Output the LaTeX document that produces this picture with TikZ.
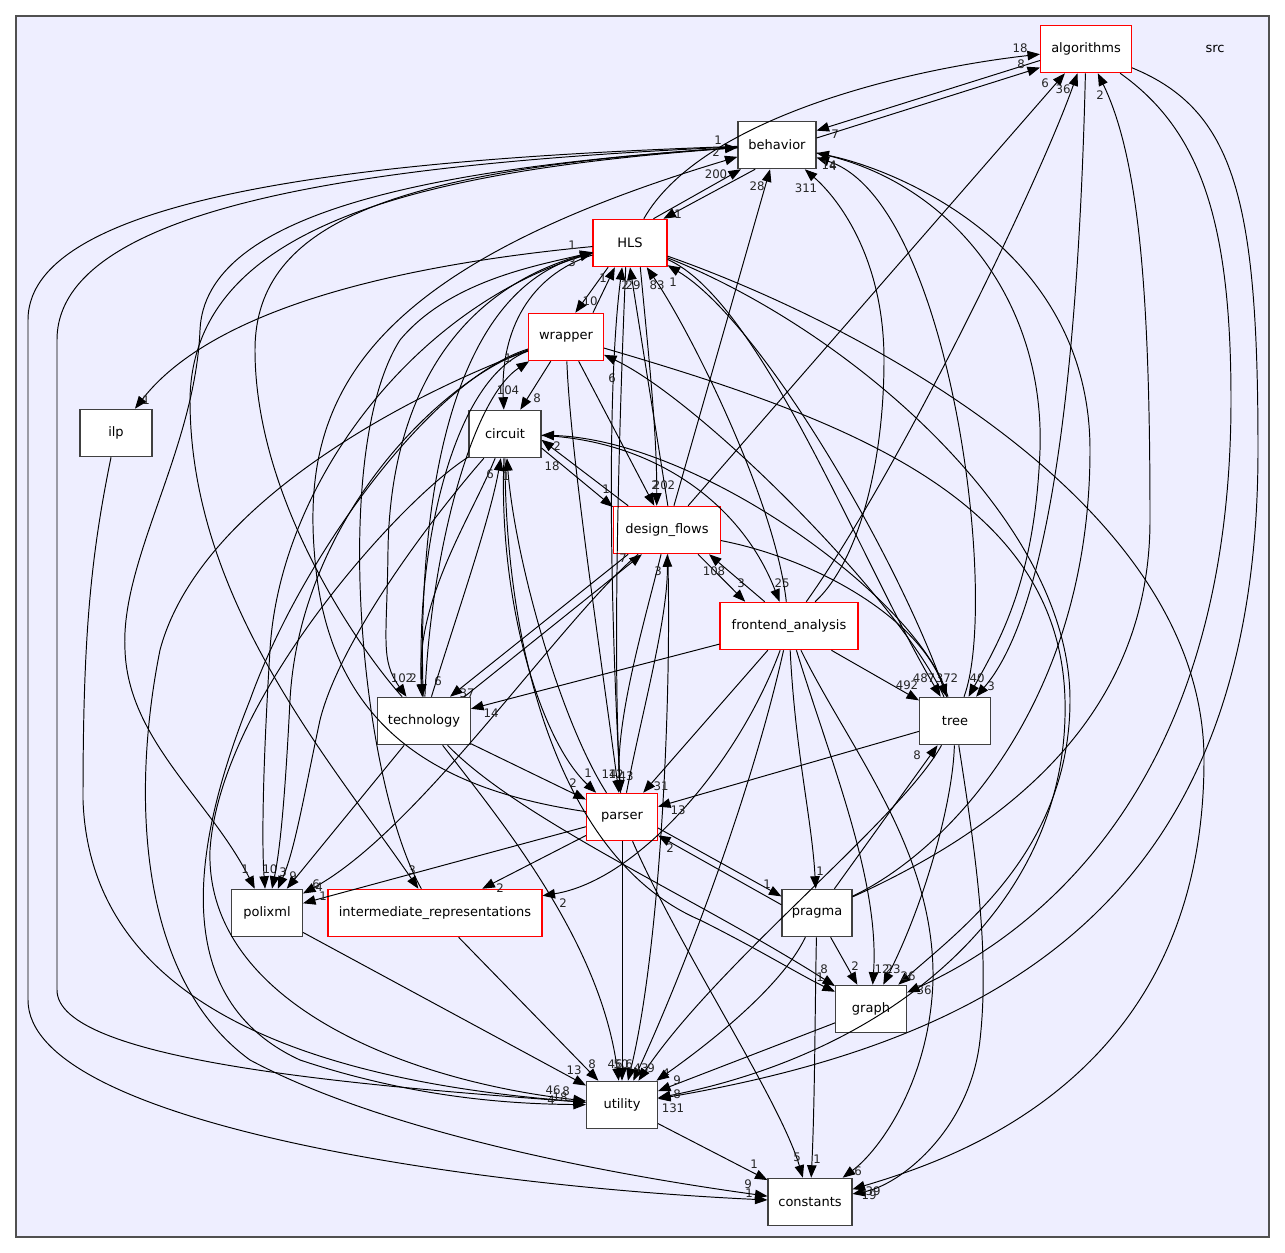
\documentclass[tikz,border=0pt]{standalone}
\usepackage{fontspec}
\setsansfont{DejaVu Sans}
\usetikzlibrary{arrows.meta}
\definecolor{SrcFill}{HTML}{EEEEFF}
\definecolor{SrcFrame}{HTML}{505050}
\definecolor{DirLine}{HTML}{404040}

\begin{document}
\begin{tikzpicture}[x=0.02cm,y=-0.02cm,
 dirbox/.style={draw=DirLine,fill=white,line width=0.6pt,minimum height=0.95cm,inner sep=1pt,font=\sffamily\fontsize{7.4}{9}\selectfont},
 dirred/.style={dirbox,draw=red},
 dep/.style={-{Triangle[length=2.5mm,width=1.9mm]},line width=0.55pt},
 lbl/.style={font=\sffamily\fontsize{6.7}{8}\selectfont,inner sep=0pt,text=black!85}]
\useasboundingbox (0,0) rectangle (1285,1253);
\draw[draw=SrcFrame,fill=SrcFill,line width=0.8pt] (16,16) rectangle (1269,1237);

% directories
\node[dirred,minimum width=1.82cm] (alg) at (1086,49) {algorithms};
\node[dirbox,minimum width=1.56cm] (beh) at (777,145) {behavior};
\node[dirred,minimum width=1.48cm] (hls) at (630,243) {HLS};
\node[dirred,minimum width=1.50cm] (wrp) at (566,337) {wrapper};
\node[dirbox,minimum width=1.44cm] (ilp) at (116,433) {ilp};
\node[dirbox,minimum width=1.44cm] (cir) at (505,434) {circuit};
\node[dirred,minimum width=2.14cm] (dfl) at (667,530) {design\_flows};
\node[dirred,minimum width=2.76cm] (fea) at (789,626) {frontend\_analysis};
\node[dirbox,minimum width=1.86cm] (tec) at (424,721) {technology};
\node[dirbox,minimum width=1.42cm] (tre) at (955,721) {tree};
\node[dirred,minimum width=1.42cm] (par) at (622,817) {parser};
\node[dirbox,minimum width=1.42cm] (pol) at (267,913) {polixml};
\node[dirred,minimum width=4.28cm] (ir) at (435,913) {intermediate\_representations};
\node[dirbox,minimum width=1.40cm] (pra) at (817,913) {pragma};
\node[dirbox,minimum width=1.42cm] (gra) at (871,1009) {graph};
\node[dirbox,minimum width=1.42cm] (uti) at (622,1105) {utility};
\node[dirbox,minimum width=1.68cm] (con) at (810,1202) {constants};
\node[font=\sffamily\fontsize{7.4}{9}\selectfont] (srcname) at (1215,49) {src};

% algorithms
\draw[dep] (alg.194) -- (beh.20) node[lbl] at (835,134) {7};
\draw[dep] (alg) .. controls (1080,300) and (1060,600) .. (tre) node[lbl] at (991,686) {3};
\draw[dep] (alg) .. controls (1200,130) and (1231,220) .. (1231,400) .. controls (1231,820) and (1000,950) .. (gra) node[lbl] at (924,990) {36};
\draw[dep] (alg) .. controls (1235,110) and (1258,200) .. (1258,450) .. controls (1258,900) and (1000,1040) .. (uti) node[lbl] at (673,1108) {131};

% behavior
\draw[dep] (beh.10) -- (alg.202) node[lbl] at (1021,64) {8};
\draw[dep] (beh.228) -- (hls.36) node[lbl] at (678,214) {1};
\draw[dep] (beh) .. controls (400,162) and (57,200) .. (57,340) -- (57,990) .. controls (57,1060) and (350,1085) .. (uti) node[lbl] at (551,1100) {4};
\draw[dep] (beh) .. controls (400,158) and (28,190) .. (28,320) -- (28,1000) .. controls (28,1120) and (450,1185) .. (con) node[lbl] at (749,1193) {1};
\draw[dep] (beh) .. controls (420,168) and (205,215) .. (200,330) .. controls (195,450) and (120,560) .. (125,650) .. controls (128,740) and (210,800) .. (pol) node[lbl] at (245,869) {1};
\draw[dep] (beh) .. controls (420,170) and (192,225) .. (190,400) .. controls (190,600) and (330,760) .. (ir) node[lbl] at (412,870) {3};
\draw[dep] (beh) .. controls (950,180) and (1045,300) .. (1040,450) .. controls (1035,580) and (1000,640) .. (tre) node[lbl] at (977,678) {40};

% HLS
\draw[dep] (hls) .. controls (700,120) and (900,70) .. (alg) node[lbl] at (1020,48) {18};
\draw[dep] (hls.46) -- (beh.214) node[lbl] at (716,174) {200};
\draw[dep] (hls.228) -- (wrp.69) node[lbl] at (590,301) {10};
\draw[dep] (hls) .. controls (430,262) and (220,300) .. (ilp) node[lbl] at (146,400) {1};
\draw[dep] (hls) .. controls (420,300) and (280,480) .. (270,650) .. controls (262,780) and (262,850) .. (pol) node[lbl] at (270,869) {10};
\draw[dep] (hls) .. controls (440,290) and (390,420) .. (388,550) .. controls (387,640) and (380,660) .. (tec) node[lbl] at (402,678) {102};
\draw[dep] (hls) .. controls (530,275) and (500,330) .. (cir) node[lbl] at (508,390) {104};
\draw[dep] (hls.-67) .. controls (648,350) and (657,430) .. (dfl.113) node[lbl] at (664,485) {202};
\draw[dep] (hls.-100) .. controls (620,400) and (612,650) .. (par) node[lbl] at (616,774) {12};
\draw[dep] (hls) .. controls (760,300) and (860,560) .. (tre) node[lbl] at (924,678) {487};
\draw[dep] (hls) .. controls (850,320) and (1204,500) .. (1204,760) .. controls (1204,1080) and (950,1160) .. (con) node[lbl] at (873,1191) {39};
\draw[dep] (hls) .. controls (850,330) and (1070,520) .. (1070,700) .. controls (1070,850) and (960,930) .. (gra) node[lbl] at (908,976) {26};

% wrapper
\draw[dep] (wrp.42) -- (hls.238) node[lbl] at (603,278) {1};
\draw[dep] (wrp) -- (cir) node[lbl] at (537,398) {8};
\draw[dep] (wrp) -- (dfl) node[lbl] at (655,485) {2};
\draw[dep] (wrp) .. controls (570,450) and (600,650) .. (par) node[lbl] at (609,774) {14};
\draw[dep] (wrp) .. controls (440,380) and (300,520) .. (290,700) .. controls (285,800) and (280,850) .. (pol) node[lbl] at (283,872) {3};
\draw[dep] (wrp) .. controls (430,380) and (300,560) .. (250,700) .. controls (190,850) and (170,1000) .. (300,1060) .. controls (420,1100) and (520,1104) .. (uti) node[lbl] at (553,1090) {46};
\draw[dep] (wrp) .. controls (420,390) and (200,500) .. (160,650) .. controls (130,800) and (140,980) .. (250,1060) .. controls (400,1140) and (650,1180) .. (con) node[lbl] at (748,1184) {9};
\draw[dep] (wrp) .. controls (450,380) and (415,560) .. (tec) node[lbl] at (438,681) {6};
\draw[dep] (wrp) .. controls (850,420) and (1060,500) .. (1065,700) .. controls (1070,900) and (900,1050) .. (uti) node[lbl] at (677,1094) {8};

% circuit
\draw[dep] (cir.-21) -- (dfl.157) node[lbl] at (606,489) {1};
\draw[dep] (cir) .. controls (498,600) and (540,740) .. (par) node[lbl] at (588,773) {1};
\draw[dep] (cir) .. controls (430,520) and (340,640) .. (320,720) .. controls (305,790) and (295,850) .. (pol) node[lbl] at (293,876) {9};
\draw[dep] (cir) .. controls (400,500) and (220,700) .. (210,850) .. controls (205,1000) and (400,1080) .. (uti) node[lbl] at (566,1091) {8};
\draw[dep] (cir) .. controls (505,650) and (560,860) .. (700,920) .. controls (760,950) and (800,975) .. (gra) node[lbl] at (820,977) {1};
\draw[dep] (cir) .. controls (650,440) and (740,500) .. (fea) node[lbl] at (782,583) {25};
\draw[dep] (cir) .. controls (470,520) and (415,600) .. (tec) node[lbl] at (413,678) {2};

% design_flows
\draw[dep] (dfl) -- (alg) node[lbl] at (1045,83) {6};
\draw[dep] (dfl) -- (beh) node[lbl] at (757,186) {28};
\draw[dep] (dfl.88) -- (hls.south) node[lbl] at (633,285) {29};
\draw[dep] (dfl.148) -- (cir.-9) node[lbl] at (552,466) {18};
\draw[dep] (dfl.212) -- (tec.43) node[lbl] at (467,693) {37};
\draw[dep] (dfl) .. controls (645,620) and (615,720) .. (par) node[lbl] at (626,776) {43};
\draw[dep] (dfl) .. controls (560,620) and (420,830) .. (pol) node[lbl] at (319,887) {4};
\draw[dep] (dfl) .. controls (820,560) and (920,620) .. (tre) node[lbl] at (947,678) {372};
\draw[dep] (dfl.-38) -- (fea.151) node[lbl] at (741,583) {3};
\draw[dep] (dfl) .. controls (672,700) and (660,950) .. (uti) node[lbl] at (629,1064) {6};

% frontend_analysis
\draw[dep] (fea) .. controls (900,470) and (1040,180) .. (alg) node[lbl] at (1063,89) {36};
\draw[dep] (fea) .. controls (860,560) and (884,460) .. (884,360) .. controls (884,260) and (840,200) .. (beh) node[lbl] at (806,188) {311};
\draw[dep] (fea) .. controls (775,500) and (690,330) .. (hls) node[lbl] at (657,285) {83};
\draw[dep] (fea.135) -- (dfl.-30) node[lbl] at (714,571) {108};
\draw[dep] (fea) -- (tec) node[lbl] at (491,713) {14};
\draw[dep] (fea) -- (tre) node[lbl] at (907,685) {492};
\draw[dep] (fea) -- (par) node[lbl] at (661,786) {31};
\draw[dep] (fea) .. controls (795,750) and (812,820) .. (pra) node[lbl] at (820,871) {1};
\draw[dep] (fea) .. controls (740,760) and (640,880) .. (ir) node[lbl] at (563,903) {2};
\draw[dep] (fea) .. controls (750,800) and (680,980) .. (uti) node[lbl] at (641,1068) {43};
\draw[dep] (fea) .. controls (830,760) and (880,880) .. (gra) node[lbl] at (893,969) {23};
\draw[dep] (fea) .. controls (850,750) and (935,850) .. (933,980) .. controls (930,1080) and (880,1150) .. (con) node[lbl] at (858,1171) {6};

% technology
\draw[dep] (tec) .. controls (360,650) and (255,500) .. (255,350) .. controls (255,220) and (400,170) .. (beh) node[lbl] at (718,140) {1};
\draw[dep] (tec) .. controls (420,600) and (420,300) .. (hls) node[lbl] at (572,245) {1};
\draw[dep] (tec) .. controls (430,560) and (470,400) .. (wrp) node[lbl] at (508,358) {1};
\draw[dep] (tec.31) -- (dfl.224) node[lbl] at (623,558) {7};
\draw[dep] (tec) .. controls (455,620) and (490,520) .. (cir) node[lbl] at (490,474) {6};
\draw[dep] (tec) -- (par) node[lbl] at (573,783) {2};
\draw[dep] (tec) -- (pol) node[lbl] at (316,884) {6};
\draw[dep] (tec) .. controls (500,820) and (600,940) .. (uti) node[lbl] at (621,1064) {50};
\draw[dep] (tec) .. controls (520,820) and (700,900) .. (gra) node[lbl] at (824,969) {8};

% tree
\draw[dep] (tre) .. controls (1000,600) and (950,200) .. (beh) node[lbl] at (829,165) {14};
\draw[dep] (tre) .. controls (900,560) and (760,320) .. (hls) node[lbl] at (673,282) {1};
\draw[dep] (tre) .. controls (900,600) and (700,400) .. (wrp) node[lbl] at (612,378) {6};
\draw[dep] (tre) .. controls (920,600) and (700,440) .. (cir) node[lbl] at (557,446) {2};
\draw[dep] (tre) -- (par) node[lbl] at (678,810) {13};
\draw[dep] (tre) .. controls (900,820) and (720,960) .. (uti) node[lbl] at (666,1073) {4};
\draw[dep] (tre) .. controls (953,800) and (926,900) .. (gra) node[lbl] at (882,969) {12};
\draw[dep] (tre) .. controls (975,850) and (990,950) .. (980,1040) .. controls (970,1130) and (900,1185) .. (con) node[lbl] at (869,1195) {19};

% parser
\draw[dep] (par) .. controls (440,790) and (330,730) .. (315,560) .. controls (300,400) and (360,270) .. (beh) node[lbl] at (716,152) {2};
\draw[dep] (par) .. controls (612,650) and (605,400) .. (hls.-108) node[lbl] at (625,285) {2};
\draw[dep] (par) .. controls (640,720) and (668,620) .. (dfl) node[lbl] at (658,571) {3};
\draw[dep] (par) .. controls (560,720) and (515,560) .. (cir) node[lbl] at (506,476) {1};
\draw[dep] (par) -- (pol) node[lbl] at (323,896) {1};
\draw[dep] (par) -- (ir) node[lbl] at (500,888) {2};
\draw[dep] (par.-17) -- (pra.155) node[lbl] at (767,884) {1};
\draw[dep] (par) -- (uti) node[lbl] at (615,1064) {46};
\draw[dep] (par) .. controls (680,950) and (780,1100) .. (con) node[lbl] at (797,1157) {5};

% polixml, intermediate_representations, ilp
\draw[dep] (pol) -- (uti) node[lbl] at (574,1070) {13};
\draw[dep] (ir) .. controls (360,780) and (330,450) .. (400,340) .. controls (450,280) and (540,265) .. (hls) node[lbl] at (572,262) {3};
\draw[dep] (ir) -- (uti) node[lbl] at (592,1064) {8};
\draw[dep] (ilp) .. controls (90,560) and (83,640) .. (83,800) .. controls (90,1000) and (300,1080) .. (uti) node[lbl] at (560,1097) {18};

% pragma
\draw[dep] (pra) .. controls (1000,830) and (1150,720) .. (1150,520) .. controls (1150,300) and (1140,160) .. (alg) node[lbl] at (1100,95) {2};
\draw[dep] (pra) .. controls (950,850) and (1090,700) .. (1090,450) .. controls (1090,250) and (900,170) .. (beh) node[lbl] at (833,166) {4};
\draw[dep] (pra) -- (tre) node[lbl] at (917,755) {8};
\draw[dep] (pra.167) -- (par.-27) node[lbl] at (670,848) {2};
\draw[dep] (pra) -- (gra) node[lbl] at (855,966) {2};
\draw[dep] (pra) .. controls (780,990) and (700,1050) .. (uti) node[lbl] at (651,1068) {9};
\draw[dep] (pra) .. controls (815,1000) and (815,1100) .. (con) node[lbl] at (817,1159) {1};

% graph, utility
\draw[dep] (gra) -- (uti) node[lbl] at (677,1080) {9};
\draw[dep] (uti) -- (con) node[lbl] at (754,1164) {1};
\end{tikzpicture}
\end{document}
